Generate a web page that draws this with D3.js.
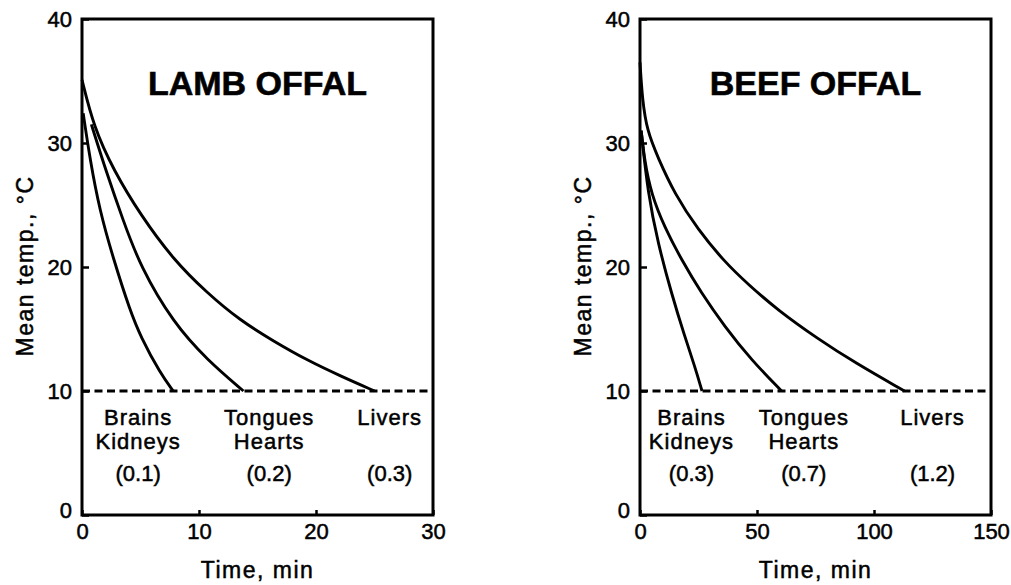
<!DOCTYPE html>
<html>
<head>
<meta charset="utf-8">
<script src="https://cdn.jsdelivr.net/npm/d3@7"></script>
<style>
  body { margin: 0; background: #fff; }
  svg { font-family: "Liberation Sans", Arial, sans-serif; }
</style>
</head>
<body>
<div id="chart"></div>
<script>
// [time min, mean temp C]
const lambBrains = [[0.1, 32.4], [0.7, 28.6], [1.5, 24.6], [2.7, 20.6], [4.1, 16.5], [5.0, 14.4], [6.7, 11.4], [7.8, 10.0]];
const lambTongues = [[0.8, 31.5], [2.1, 27.6], [3.5, 23.8], [5.0, 20.0], [7.8, 15.5], [10.7, 12.5], [13.8, 10.0]];
const lambLivers = [[0, 35.1], [1.0, 31.3], [2.7, 27.8], [5.0, 24.2], [7.8, 20.6], [10.7, 17.9], [13.5, 15.7], [16.4, 14.0], [19.2, 12.5], [22.1, 11.2], [25.0, 10.0]];

const beefBrains = [[0.5, 31.0], [3.4, 25.9], [7.7, 21.9], [13.4, 17.9], [19.1, 14.4], [23.4, 12.0], [26.5, 10.0]];
const beefTongues = [[0.5, 31.0], [2.0, 28.5], [4.8, 25.9], [10.5, 23.2], [17.7, 20.6], [26.2, 17.9], [36.2, 15.2], [47.6, 12.5], [60.5, 10.0]];
const beefLivers = [[0, 36.5], [1.0, 33.5], [3.0, 31.0], [7.7, 28.8], [14.8, 25.9], [24.8, 23.0], [36.2, 20.4], [46.2, 18.6], [59.0, 16.5], [76.1, 14.2], [91.7, 12.3], [113, 10.0]];

const yTicks = [0, 10, 20, 30, 40];
const lambXTicks = [0, 10, 20, 30];
const beefXTicks = [0, 50, 100, 150];
const groupNames = [["Brains", "Kidneys"], ["Tongues", "Hearts"], ["Livers"]];
const lambLabelX = [4.8, 16.0, 26.3];
const beefLabelX = [22, 70, 125];
const lambNumbers = ["(0.1)", "(0.2)", "(0.3)"];
const beefNumbers = ["(0.3)", "(0.7)", "(1.2)"];
const chillTemp = 10;

const W = 1011, H = 585;
const TOP = 19, BOTTOM = 515;
const STROKE = "#000";
const TEXT_WEIGHT = 0.5; // scanned type looks a bit heavier than plain Arial

const svg = d3.select("#chart").append("svg")
  .attr("width", W)
  .attr("height", H);

function drawPanel(opt) {
  const g = svg.append("g");

  const x = d3.scaleLinear().domain([0, opt.xMax]).range([opt.left, opt.right]);
  const y = d3.scaleLinear().domain([0, 40]).range([BOTTOM, TOP]);

  // axes: ticks pointing inward
  const xAxis = g.append("g")
    .attr("transform", `translate(0, ${BOTTOM})`)
    .call(d3.axisBottom(x).tickValues(opt.xTicks).tickSizeInner(-5).tickSizeOuter(0).tickPadding(8));
  const yAxis = g.append("g")
    .attr("transform", `translate(${opt.left}, 0)`)
    .call(d3.axisLeft(y).tickValues(yTicks).tickSizeInner(-7).tickSizeOuter(0).tickPadding(10));

  [xAxis, yAxis].forEach(a => {
    a.select(".domain").remove();
    a.selectAll(".tick line").attr("stroke", STROKE).attr("stroke-width", 2.5);
    a.selectAll(".tick text")
      .attr("fill", STROKE)
      .attr("stroke", STROKE)
      .attr("stroke-width", TEXT_WEIGHT)
      .attr("font-size", 22)
      .attr("font-family", "Liberation Sans, Arial, sans-serif");
  });
  yAxis.selectAll(".tick text").attr("dy", "0.36em");
  yAxis.selectAll(".tick").filter(d => d === 0).select("text").attr("dy", "0.1em");

  // frame
  g.append("rect")
    .attr("x", opt.left)
    .attr("y", TOP)
    .attr("width", opt.right - opt.left)
    .attr("height", BOTTOM - TOP)
    .attr("fill", "none")
    .attr("stroke", STROKE)
    .attr("stroke-width", 3);

  // 10 C line
  g.append("line")
    .attr("x1", x(0))
    .attr("x2", x(opt.xMax))
    .attr("y1", y(chillTemp))
    .attr("y2", y(chillTemp))
    .attr("stroke", STROKE)
    .attr("stroke-width", 3)
    .attr("stroke-dasharray", "8,4.5");

  const line = d3.line()
    .x(d => x(d[0]))
    .y(d => y(d[1]))
    .curve(d3.curveBasis);

  g.selectAll(".curve")
    .data(opt.series)
    .join("path")
    .attr("class", "curve")
    .attr("d", line)
    .attr("fill", "none")
    .attr("stroke", STROKE)
    .attr("stroke-width", 2.9);

  // title
  g.append("text")
    .attr("x", (opt.left + opt.right) / 2)
    .attr("y", 95)
    .attr("text-anchor", "middle")
    .attr("font-size", 34)
    .attr("font-weight", "bold")
    .attr("stroke", STROKE)
    .attr("stroke-width", 0.6)
    .text(opt.title);

  // group labels
  groupNames.forEach((names, i) => {
    names.forEach((n, j) => {
      g.append("text")
        .attr("x", x(opt.labelX[i]))
        .attr("y", 425 + j * 24)
        .attr("text-anchor", "middle")
        .attr("font-size", 22)
        .attr("letter-spacing", 1)
        .attr("stroke", STROKE)
        .attr("stroke-width", TEXT_WEIGHT)
        .text(n);
    });
    g.append("text")
      .attr("x", x(opt.labelX[i]))
      .attr("y", 481)
      .attr("text-anchor", "middle")
      .attr("font-size", 22)
      .attr("stroke", STROKE)
      .attr("stroke-width", TEXT_WEIGHT)
      .text(opt.numbers[i]);
  });

  // axis labels
  g.append("text")
    .attr("x", (opt.left + opt.right) / 2)
    .attr("y", 578)
    .attr("text-anchor", "middle")
    .attr("font-size", 23)
    .attr("letter-spacing", 1.5)
    .attr("stroke", STROKE)
    .attr("stroke-width", TEXT_WEIGHT)
    .text("Time, min");

  g.append("text")
    .attr("transform", `translate(${opt.left - 49}, 266) rotate(-90)`)
    .attr("text-anchor", "middle")
    .attr("font-size", 23)
    .attr("letter-spacing", 1.5)
    .attr("stroke", STROKE)
    .attr("stroke-width", TEXT_WEIGHT)
    .text("Mean temp., °C");
}

drawPanel({
  title: "LAMB OFFAL",
  left: 82, right: 433, xMax: 30,
  xTicks: lambXTicks,
  series: [lambBrains, lambTongues, lambLivers],
  labelX: lambLabelX,
  numbers: lambNumbers
});

drawPanel({
  title: "BEEF OFFAL",
  left: 640, right: 991, xMax: 150,
  xTicks: beefXTicks,
  series: [beefBrains, beefTongues, beefLivers],
  labelX: beefLabelX,
  numbers: beefNumbers
});
</script>
</body>
</html>
